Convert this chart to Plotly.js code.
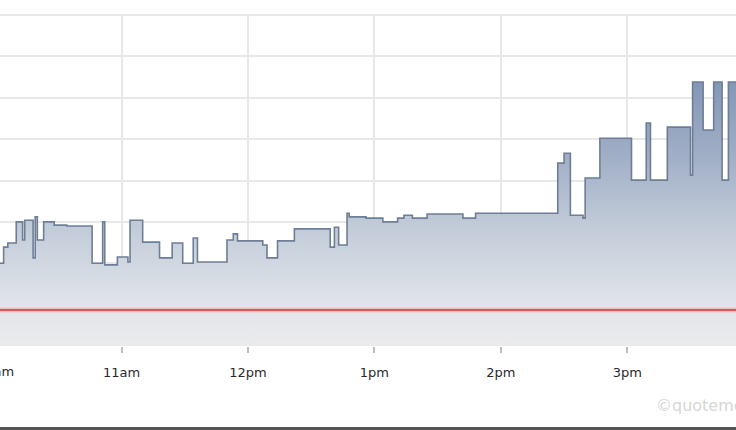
<!DOCTYPE html>
<html>
<head>
<meta charset="utf-8">
<script src="https://cdn.plot.ly/plotly-3.0.1.min.js"></script>
<style>
  html, body { margin: 0; padding: 0; background: #ffffff; overflow: hidden; }
  #chart { width: 736px; height: 430px; }
</style>
</head>
<body>
<div id="chart"></div>
<script>
// ---- data ----
const day = '2024-01-02 ';
const times = ['10:00','10:04','10:06','10:10','10:13','10:14','10:18','10:19','10:20','10:23',
  '10:28','10:34','10:46','10:51','10:52','10:58','11:03','11:04','11:10','11:18',
  '11:24','11:29','11:34','11:36','11:50','11:53','11:55','12:07','12:09','12:14',
  '12:22','12:39','12:41','12:43','12:47','12:48','12:56','13:04','13:11','13:14',
  '13:18','13:25','13:42','13:48','14:27','14:30','14:33','14:39','14:40','14:47',
  '15:02','15:09','15:11','15:19','15:30','15:31','15:36','15:41','15:45','15:48','15:55'];
const prices = [1.300,1.339,1.349,1.400,1.356,1.404,1.313,1.412,1.356,1.400,
  1.392,1.390,1.300,1.400,1.296,1.315,1.303,1.404,1.351,1.313,
  1.349,1.300,1.361,1.303,1.356,1.371,1.354,1.344,1.313,1.354,
  1.383,1.339,1.387,1.344,1.421,1.412,1.409,1.400,1.409,1.416,
  1.409,1.419,1.409,1.421,1.542,1.566,1.416,1.409,1.506,1.602,
  1.501,1.639,1.501,1.629,1.513,1.738,1.622,1.738,1.501,1.738,1.738];
const prevClose = 1.187;
const tickTimes = ['11:00','12:00','13:00','14:00','15:00'];
const tickLabels = ['11am','12pm','1pm','2pm','3pm'];
const cutLabel = '10am';

// ---- chart ----
const x = times.map(t => day + t);
const trace = {
  x: x, y: prices,
  type: 'scatter', mode: 'lines',
  line: { shape: 'hv', color: '#6e7e96', width: 1.6 },
  fill: 'tozeroy',
  fillgradient: {
    type: 'vertical', start: 1.10, stop: 1.75,
    colorscale: [[0, '#ebebed'], [0.15, '#e1e4ea'], [0.4, '#c6cfdb'], [0.7, '#a1afc6'], [1, '#8195b4']]
  },
  hoverinfo: 'skip'
};

const tickFont = { family: 'DejaVu Sans, Verdana, sans-serif', size: 13, color: '#2a2a2a' };

const layout = {
  width: 736, height: 430,
  margin: { l: 0, r: 0, t: 15, b: 84 },
  paper_bgcolor: '#ffffff', plot_bgcolor: '#ffffff',
  showlegend: false,
  xaxis: {
    type: 'date',
    range: [day + '10:02:17', day + '15:51:36'],
    tickmode: 'array',
    tickvals: tickTimes.map(t => day + t),
    ticktext: tickLabels,
    showgrid: true, gridcolor: '#e8e8e8', gridwidth: 2,
    ticks: 'outside', ticklen: 6, tickwidth: 2, tickcolor: '#bdbdbd',
    ticklabelstandoff: 8,
    tickfont: tickFont,
    zeroline: false, showline: false, fixedrange: true
  },
  yaxis: {
    range: [1.0999, 1.9001],
    dtick: 0.1, tick0: 1.1,
    showgrid: true, gridcolor: '#e8e8e8', gridwidth: 2,
    showticklabels: false, ticks: '',
    zeroline: false, showline: false, fixedrange: true
  },
  shapes: [
    { type: 'line', xref: 'paper', x0: 0, x1: 1, yref: 'paper', y0: 1, y1: 1,
      line: { color: '#e8e8e8', width: 2 }, layer: 'below' },
    { type: 'line', xref: 'paper', x0: 0, x1: 1, yref: 'y', y0: prevClose, y1: prevClose,
      line: { color: 'rgba(240,150,150,0.45)', width: 5 } },
    { type: 'line', xref: 'paper', x0: 0, x1: 1, yref: 'y', y0: prevClose, y1: prevClose,
      line: { color: '#d45a5a', width: 2 } },
    { type: 'rect', xref: 'paper', x0: -0.01, x1: 1.01, yref: 'paper', y0: -0.2447, y1: -0.28,
      fillcolor: '#555555', line: { width: 0 } }
  ],
  annotations: [
    { xref: 'paper', yref: 'paper', x: -4.6 / 736, y: -(371 - 346) / 331,
      xanchor: 'center', yanchor: 'middle', showarrow: false, text: cutLabel,
      font: tickFont },
    { xref: 'paper', yref: 'paper', x: 654 / 736, y: -(405 - 346) / 331,
      xanchor: 'left', yanchor: 'middle', showarrow: false, text: '©quotemedia',
      font: { family: 'DejaVu Sans, sans-serif', size: 16, color: '#d6d6d6' } }
  ]
};

Plotly.newPlot('chart', [trace], layout, { displayModeBar: false, staticPlot: true });
</script>
</body>
</html>
